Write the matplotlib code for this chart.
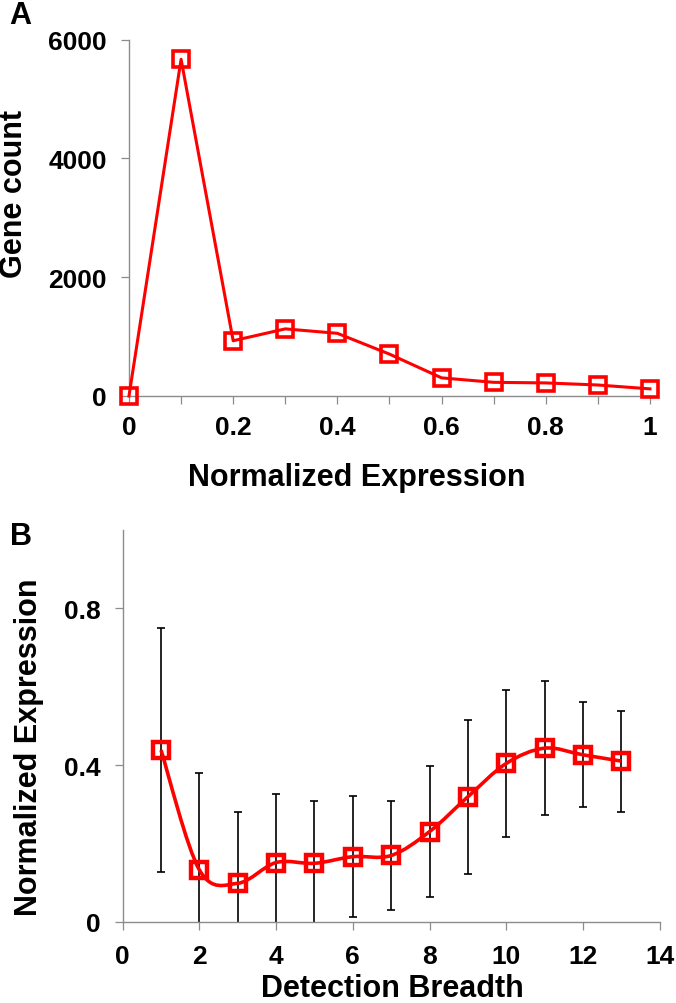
"""
Two-panel figure: gene count vs normalized expression (A) and
normalized expression vs detection breadth (B).
"""

import numpy as np
import matplotlib
matplotlib.use('Agg')
import matplotlib.pyplot as plt
from matplotlib.path import Path
from matplotlib.patches import PathPatch

plt.rcParams['font.family'] = ['Liberation Sans', 'DejaVu Sans']
plt.rcParams['font.weight'] = 'bold'

# Panel A data
expr_bins = [0.0, 0.1, 0.2, 0.3, 0.4, 0.5, 0.6, 0.7, 0.8, 0.9, 1.0]
gene_count = [0, 5670, 930, 1130, 1055, 705, 305, 230, 220, 185, 120]

# Panel B data
breadth = [1, 2, 3, 4, 5, 6, 7, 8, 9, 10, 11, 12, 13]
mean_expr = [0.438, 0.132, 0.098, 0.151, 0.149, 0.166, 0.169, 0.230, 0.319, 0.404, 0.443, 0.426, 0.410]
sd_expr = [0.311, 0.247, 0.183, 0.174, 0.159, 0.155, 0.138, 0.168, 0.196, 0.187, 0.171, 0.134, 0.129]

RED = '#ff0000'
GRAY = '#8c8c8c'
TICK_FS = 19
LABEL_FS = 22
W, H = 676, 1004


def style_axes(ax):
    for side in ['top', 'right']:
        ax.spines[side].set_visible(False)
    for side in ['left', 'bottom']:
        ax.spines[side].set_color(GRAY)
        ax.spines[side].set_linewidth(1.0)
    ax.tick_params(axis='both', direction='out', length=6, width=0.9,
                   color=GRAY, labelsize=TICK_FS)


def smooth_path(xs, ys):
    # Excel-style smoothed line: Catmull-Rom segments as cubic Beziers
    pts = np.column_stack([np.asarray(xs, float), np.asarray(ys, float)])
    n = len(pts)
    verts = [pts[0]]
    codes = [Path.MOVETO]
    for i in range(n - 1):
        p0 = pts[i - 1] if i > 0 else pts[i]
        p1 = pts[i]
        p2 = pts[i + 1]
        p3 = pts[i + 2] if i + 2 < n else pts[i + 1]
        verts += [p1 + (p2 - p0) / 6.0, p2 - (p3 - p1) / 6.0, p2]
        codes += [Path.CURVE4] * 3
    return Path(verts, codes)


def fig_text(x_px, y_px, s, **kw):
    # place text by pixel position measured from the top-left corner
    fig.text(x_px / W, 1 - y_px / H, s, fontsize=LABEL_FS, fontweight='bold',
             ha='center', va='center', **kw)


fig = plt.figure(figsize=(W / 100, H / 100), dpi=100)

# Panel A
ax1 = fig.add_axes([0.1908, 0.6046, 0.7707, 0.3549])
style_axes(ax1)
ax1.plot(expr_bins, gene_count, color=RED, linewidth=2.2, marker='s',
         markersize=11, markerfacecolor='none', markeredgecolor=RED,
         markeredgewidth=2.6, clip_on=False, zorder=5)
ax1.set_xlim(0, 1)
ax1.set_ylim(0, 6000)
ax1.set_yticks([0, 2000, 4000, 6000])
ax1.set_xticks(expr_bins)
ax1.set_xticklabels(['0', '', '0.2', '', '0.4', '', '0.6', '', '0.8', '', '1'])
ax1.tick_params(axis='y', pad=10)
ax1.tick_params(axis='x', pad=8)
fig_text(14, 194, 'Gene count', rotation=90)
fig_text(357, 478, 'Normalized Expression')
fig_text(20, 16, 'A')

# Panel B
ax2 = fig.add_axes([0.1815, 0.0810, 0.7944, 0.3901])
style_axes(ax2)
ax2.errorbar(breadth, mean_expr, yerr=sd_expr, fmt='none', ecolor='black',
             elinewidth=1.2, capsize=3, capthick=1.2, zorder=2)
ax2.add_patch(PathPatch(smooth_path(breadth, mean_expr), facecolor='none',
                        edgecolor=RED, linewidth=2.6, zorder=3))
ax2.plot(breadth, mean_expr, linestyle='none', marker='s', markersize=11,
         markerfacecolor='none', markeredgecolor=RED, markeredgewidth=3.2, zorder=4)
ax2.set_xlim(0, 14)
ax2.set_ylim(0, 1.0)
ax2.set_xticks(range(0, 15, 2))
ax2.set_yticks([0, 0.4, 0.8])
ax2.set_yticklabels(['0', '0.4', '0.8'])
ax2.tick_params(axis='y', pad=10)
ax2.tick_params(axis='x', pad=10)
fig_text(29, 747, 'Normalized Expression', rotation=90)
fig_text(392, 989, 'Detection Breadth')
fig_text(21, 537, 'B')

fig.savefig('out.png', dpi=100, facecolor='white')
print("Saved out.png")
